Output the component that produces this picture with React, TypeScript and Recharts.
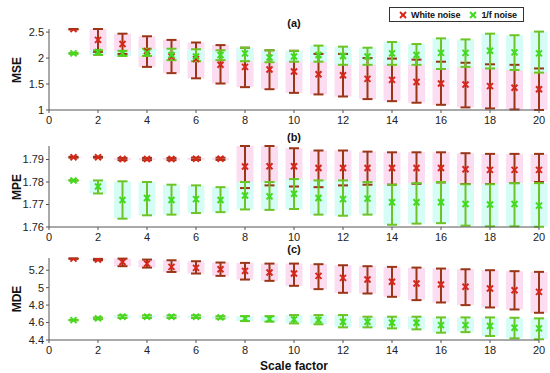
import { ScatterChart, Scatter, XAxis, YAxis, ErrorBar } from "recharts";

const scales = [1, 2, 3, 4, 5, 6, 7, 8, 9, 10, 11, 12, 13, 14, 15, 16, 17, 18, 19, 20];
const xTicks = [0, 2, 4, 6, 8, 10, 12, 14, 16, 18, 20];

// MSE
const mseWhiteMean = [2.56, 2.35, 2.27, 2.13, 2.03, 1.98, 1.87, 1.83, 1.78, 1.74, 1.69, 1.67, 1.6, 1.58, 1.54, 1.51, 1.49, 1.46, 1.43, 1.4];
const mseWhiteLow = [2.55, 2.12, 2.08, 1.83, 1.71, 1.61, 1.51, 1.44, 1.4, 1.33, 1.3, 1.26, 1.21, 1.17, 1.14, 1.1, 1.05, 1.03, 1.01, 1.0];
const mseWhiteHigh = [2.56, 2.56, 2.47, 2.42, 2.35, 2.3, 2.25, 2.2, 2.15, 2.14, 2.08, 2.08, 2.0, 1.99, 1.97, 1.93, 1.91, 1.88, 1.87, 1.8];
const mseOneFMean = [2.09, 2.12, 2.09, 2.1, 2.06, 2.03, 2.06, 2.09, 2.01, 2.03, 2.06, 2.04, 2.03, 2.09, 2.06, 2.1, 2.1, 2.14, 2.11, 2.09];
const mseOneFLow = [2.08, 2.06, 2.04, 2.04, 1.96, 1.94, 1.96, 1.94, 1.92, 1.93, 1.93, 1.87, 1.87, 1.87, 1.87, 1.79, 1.83, 1.8, 1.77, 1.72];
const mseOneFHigh = [2.1, 2.15, 2.14, 2.18, 2.18, 2.17, 2.15, 2.2, 2.15, 2.14, 2.24, 2.22, 2.2, 2.31, 2.27, 2.38, 2.36, 2.47, 2.44, 2.51];

// MPE
const mpeWhiteMean = [1.791, 1.791, 1.7902, 1.7902, 1.7902, 1.7903, 1.7903, 1.7869, 1.787, 1.787, 1.7862, 1.7862, 1.7862, 1.7862, 1.7862, 1.7862, 1.7857, 1.7854, 1.7854, 1.7854];
const mpeWhiteLow = [1.7908, 1.7908, 1.7897, 1.7897, 1.7897, 1.7898, 1.7898, 1.7773, 1.7785, 1.778, 1.7777, 1.7785, 1.7788, 1.7788, 1.7792, 1.7798, 1.7791, 1.7791, 1.7795, 1.78];
const mpeWhiteHigh = [1.7912, 1.7912, 1.7907, 1.7907, 1.7907, 1.7908, 1.7908, 1.796, 1.796, 1.795, 1.794, 1.794, 1.7935, 1.7932, 1.7932, 1.7932, 1.7928, 1.7925, 1.7925, 1.7925];
const mpeOneFMean = [1.7807, 1.778, 1.772, 1.7729, 1.772, 1.7724, 1.772, 1.774, 1.7736, 1.7748, 1.7729, 1.7724, 1.7726, 1.771, 1.771, 1.771, 1.7702, 1.77, 1.7702, 1.7695];
const mpeOneFLow = [1.7805, 1.7749, 1.7637, 1.7652, 1.7655, 1.7662, 1.7666, 1.7678, 1.7676, 1.768, 1.7655, 1.765, 1.7655, 1.761, 1.7615, 1.7617, 1.7606, 1.7603, 1.7603, 1.7601];
const mpeOneFHigh = [1.7809, 1.7807, 1.7803, 1.78, 1.7788, 1.7785, 1.7777, 1.78, 1.78, 1.7813, 1.7807, 1.7807, 1.78, 1.7788, 1.7795, 1.78, 1.779, 1.779, 1.7795, 1.7795];

// MDE
const mdeWhiteMean = [5.333, 5.322, 5.295, 5.276, 5.238, 5.227, 5.211, 5.192, 5.173, 5.162, 5.135, 5.112, 5.093, 5.067, 5.048, 5.036, 5.01, 4.99, 4.971, 4.952];
const mdeWhiteLow = [5.33, 5.314, 5.246, 5.23, 5.18, 5.162, 5.135, 5.093, 5.078, 5.021, 4.983, 4.941, 4.933, 4.895, 4.857, 4.83, 4.8, 4.773, 4.75, 4.712];
const mdeWhiteHigh = [5.336, 5.33, 5.333, 5.322, 5.314, 5.303, 5.288, 5.284, 5.276, 5.276, 5.269, 5.257, 5.246, 5.238, 5.23, 5.219, 5.211, 5.2, 5.189, 5.181];
const mdeOneFMean = [4.628, 4.648, 4.667, 4.667, 4.667, 4.667, 4.659, 4.648, 4.64, 4.636, 4.629, 4.61, 4.61, 4.598, 4.598, 4.571, 4.571, 4.56, 4.541, 4.533];
const mdeOneFLow = [4.625, 4.638, 4.652, 4.652, 4.652, 4.652, 4.645, 4.617, 4.61, 4.59, 4.58, 4.545, 4.545, 4.533, 4.522, 4.484, 4.49, 4.446, 4.419, 4.408];
const mdeOneFHigh = [4.631, 4.658, 4.682, 4.682, 4.682, 4.682, 4.673, 4.674, 4.674, 4.686, 4.686, 4.686, 4.667, 4.667, 4.667, 4.659, 4.659, 4.659, 4.655, 4.648];

const WHITE_BAR = "#9a3516";
const WHITE_MARK = "#d9261a";
const ONEF_BAR = "#6cc425";
const ONEF_MARK = "#3fdc1e";
const AXIS = "#555";

function rows(mean: number[], low: number[], high: number[]) {
  return scales.map((x, i) => ({ x, y: mean[i], err: [mean[i] - low[i], high[i] - mean[i]] }));
}

const xMark = (color: string) => (p: any) => {
  const { cx, cy } = p;
  if (cx == null || cy == null) return <g />;
  return (
    <g stroke={color} strokeWidth={2}>
      <line x1={cx - 3} y1={cy - 3} x2={cx + 3} y2={cy + 3} />
      <line x1={cx - 3} y1={cy + 3} x2={cx + 3} y2={cy - 3} />
    </g>
  );
};

const noShape = () => <g />;
const noTick = () => <g />;

type PanelProps = {
  top: number;
  height: number;
  mt: number;
  xh: number;
  domain: [number, number];
  yTicks: number[];
  white: any[];
  oneF: any[];
  xLabel?: string;
};

function Panel({ top, height, mt, xh, domain, yTicks, white, oneF, xLabel }: PanelProps) {
  const tickStyle = { fontSize: 11, fill: "#222" };
  return (
    <div style={{ position: "absolute", left: 0, top }}>
      <ScatterChart width={550} height={height} margin={{ top: mt, right: 11, bottom: 0, left: 0 }}>
        <XAxis dataKey="x" type="number" domain={[0, 20]} ticks={xTicks} height={xh}
               tick={tickStyle} tickSize={3} tickMargin={3} stroke={AXIS}
               label={xLabel ? { value: xLabel, position: "insideBottom", offset: 3, fontSize: 12, fontWeight: "bold", fill: "#111" } : undefined} />
        <XAxis xAxisId="top" orientation="top" type="number" domain={[0, 20]} ticks={xTicks} height={0}
               mirror tickSize={3} tick={noTick} stroke={AXIS} />
        <YAxis dataKey="y" type="number" domain={domain} ticks={yTicks} width={49} allowDataOverflow
               tick={tickStyle} tickSize={3} tickMargin={2} stroke={AXIS} />
        <YAxis yAxisId="right" orientation="right" type="number" domain={domain} ticks={yTicks} width={0}
               mirror tickSize={3} tick={noTick} stroke={AXIS} />
        <Scatter data={white} shape={noShape} isAnimationActive={false}>
          <ErrorBar dataKey="err" direction="y" width={0} stroke="#fcdcf0" strokeWidth={17} />
        </Scatter>
        <Scatter data={oneF} shape={noShape} isAnimationActive={false}>
          <ErrorBar dataKey="err" direction="y" width={0} stroke="#d6fcf6" strokeWidth={17} />
        </Scatter>
        <Scatter data={white} shape={xMark(WHITE_MARK)} isAnimationActive={false}>
          <ErrorBar dataKey="err" direction="y" width={5} stroke={WHITE_BAR} strokeWidth={2} />
        </Scatter>
        <Scatter data={oneF} shape={xMark(ONEF_MARK)} isAnimationActive={false}>
          <ErrorBar dataKey="err" direction="y" width={5} stroke={ONEF_BAR} strokeWidth={2} />
        </Scatter>
      </ScatterChart>
    </div>
  );
}

function YLabel({ text, y }: { text: string; y: number }) {
  return (
    <div style={{ position: "absolute", left: 17, top: y, transform: "translate(-50%, -50%) rotate(-90deg)",
                  fontSize: 12, fontWeight: "bold", whiteSpace: "nowrap", color: "#111" }}>
      {text}
    </div>
  );
}

function Title({ text, y }: { text: string; y: number }) {
  return (
    <div style={{ position: "absolute", left: 294, top: y, transform: "translate(-50%, -50%)",
                  fontSize: 11, fontWeight: "bold", color: "#111" }}>
      {text}
    </div>
  );
}

function LegendMark({ color }: { color: string }) {
  return (
    <svg width={10} height={10} style={{ display: "block" }}>
      <g stroke={color} strokeWidth={2}>
        <line x1={2} y1={2} x2={8} y2={8} />
        <line x1={2} y1={8} x2={8} y2={2} />
      </g>
    </svg>
  );
}

export default function App() {
  return (
    <div style={{ position: "absolute", left: 0, top: 0, width: 550, height: 373, background: "#fff",
                  fontFamily: "'Liberation Sans', Arial, sans-serif", overflow: "hidden" }}>
      <Panel top={0} height={125} mt={29} xh={15} domain={[1, 2.56]} yTicks={[1, 1.5, 2, 2.5]}
             white={rows(mseWhiteMean, mseWhiteLow, mseWhiteHigh)} oneF={rows(mseOneFMean, mseOneFLow, mseOneFHigh)} />
      <Panel top={120} height={130} mt={26} xh={23} domain={[1.76, 1.796]} yTicks={[1.76, 1.77, 1.78, 1.79]}
             white={rows(mpeWhiteMean, mpeWhiteLow, mpeWhiteHigh)} oneF={rows(mpeOneFMean, mpeOneFLow, mpeOneFHigh)} />
      <Panel top={235} height={138} mt={23} xh={33} domain={[4.4, 5.34]} yTicks={[4.4, 4.6, 4.8, 5, 5.2]}
             white={rows(mdeWhiteMean, mdeWhiteLow, mdeWhiteHigh)} oneF={rows(mdeOneFMean, mdeOneFLow, mdeOneFHigh)}
             xLabel="Scale factor" />
      <YLabel text="MSE" y={70} />
      <YLabel text="MPE" y={187} />
      <YLabel text="MDE" y={299} />
      <Title text="(a)" y={23} />
      <Title text="(b)" y={137} />
      <Title text="(c)" y={249} />
      <div style={{ position: "absolute", left: 389, top: 7, width: 133, height: 13, border: "1px solid #333",
                    background: "#fff", display: "flex", alignItems: "center", fontSize: 9, fontWeight: "bold",
                    color: "#111", whiteSpace: "nowrap", letterSpacing: -0.1 }}>
        <div style={{ marginLeft: 8 }}><LegendMark color={WHITE_MARK} /></div>
        <span style={{ marginLeft: 3 }}>White noise</span>
        <div style={{ marginLeft: 8 }}><LegendMark color={ONEF_MARK} /></div>
        <span style={{ marginLeft: 3 }}>1/f noise</span>
      </div>
    </div>
  );
}
